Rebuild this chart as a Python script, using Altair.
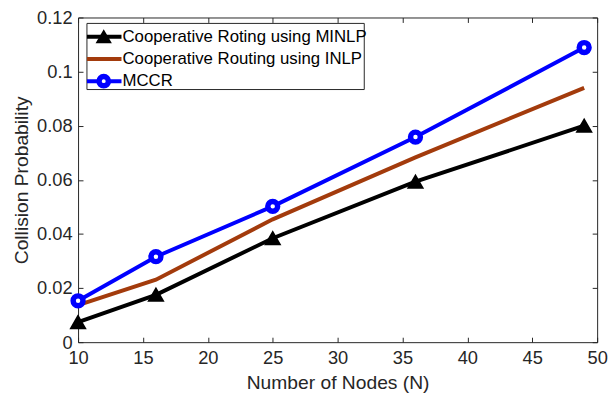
import altair as alt
import pandas as pd

nodes = [10, 16, 25, 36, 49]
minlp = [0.0074, 0.0175, 0.0384, 0.0593, 0.0800]
inlp = [0.0137, 0.0231, 0.0454, 0.0683, 0.0940]
mccr = [0.0153, 0.0316, 0.0502, 0.0758, 0.1089]
series_names = ["Cooperative Roting using MINLP", "Cooperative Routing using INLP", "MCCR"]
series_colors = ["#000000", "#A33B0C", "#0000FF"]
x_ticks = [10, 15, 20, 25, 30, 35, 40, 45, 50]
y_ticks = [0, 0.02, 0.04, 0.06, 0.08, 0.1, 0.12]

rows = []
for name, vals in zip(series_names, [minlp, inlp, mccr]):
    for n, v in zip(nodes, vals):
        rows.append({"N": n, "P": v, "Series": name})
df = pd.DataFrame(rows)
legend_df = pd.DataFrame({"Series": series_names})
box_df = pd.DataFrame({"box": [0]})

FONT = "Liberation Sans"
AX = "#262626"

xs = alt.Scale(domain=[10, 50], nice=False, zero=False)
ys = alt.Scale(domain=[0, 0.12], nice=False, zero=False)
col = alt.Scale(domain=series_names, range=series_colors)
ly = alt.Scale(type="point", domain=series_names, range=[19.5, 64.5], padding=0)

x_bottom = alt.Axis(orient="bottom", values=x_ticks, offset=-5, tickSize=5, labelPadding=7,
                    domain=False, grid=False, title="Number of Nodes (N)", format="d",
                    labelFlush=False, titlePadding=6)
y_left = alt.Axis(orient="left", values=y_ticks, offset=-5, tickSize=5, labelPadding=6,
                  domain=False, grid=False, title="Collision Probability", format=".2~f",
                  labelFlush=False, titlePadding=5)
x_top = alt.Axis(orient="top", values=x_ticks, offset=-5, tickSize=5, labels=False,
                 domain=False, grid=False, title=None)
y_right = alt.Axis(orient="right", values=y_ticks, offset=-5, tickSize=5, labels=False,
                   domain=False, grid=False, title=None)

base = alt.Chart(df)

lines = base.mark_line(strokeWidth=4).encode(
    x=alt.X("N:Q", scale=xs, axis=x_bottom),
    y=alt.Y("P:Q", scale=ys, axis=y_left),
    color=alt.Color("Series:N", scale=col, legend=None),
    order=alt.Order("N:Q"),
)

tris = base.transform_filter(alt.datum.Series == series_names[0]).mark_point(
    shape="triangle-up", filled=True, size=200, color="#000000", stroke="#000000", strokeWidth=2, opacity=1
).encode(
    x=alt.X("N:Q", scale=xs, axis=None),
    y=alt.Y("P:Q", scale=ys, axis=None),
)

circs = base.transform_filter(alt.datum.Series == series_names[2]).mark_point(
    shape="circle", filled=False, size=100, stroke="#0000FF", fill="white", strokeWidth=5.5, opacity=1
).encode(
    x=alt.X("N:Q", scale=xs, axis=x_top),
    y=alt.Y("P:Q", scale=ys, axis=y_right),
)

# legend drawn as its own small layers
leg_box = alt.Chart(box_df).mark_rect(fill="white", stroke=AX, strokeWidth=1).encode(
    x=alt.value(9), x2=alt.value(290), y=alt.value(6), y2=alt.value(73)
)
lbase = alt.Chart(legend_df)
leg_lines = lbase.mark_rule(strokeWidth=4).encode(
    x=alt.value(9), x2=alt.value(44),
    y=alt.Y("Series:N", scale=ly, axis=None),
    color=alt.Color("Series:N", scale=col, legend=None),
)
leg_tri = lbase.transform_filter(alt.datum.Series == series_names[0]).mark_point(
    shape="triangle-up", filled=True, size=170, color="#000000", stroke="#000000", strokeWidth=2, opacity=1
).encode(x=alt.value(26), y=alt.Y("Series:N", scale=ly, axis=None))
leg_circ = lbase.transform_filter(alt.datum.Series == series_names[2]).mark_point(
    shape="circle", filled=False, size=90, stroke="#0000FF", fill="white", strokeWidth=5.5, opacity=1
).encode(x=alt.value(26), y=alt.Y("Series:N", scale=ly, axis=None))
leg_text = lbase.mark_text(align="left", baseline="middle", font=FONT, fontSize=17, color="#000000").encode(
    x=alt.value(45), y=alt.Y("Series:N", scale=ly, axis=None), text="Series:N"
)

chart = alt.layer(
    lines, tris, circs, leg_box, leg_lines, leg_tri, leg_circ, leg_text
).resolve_scale(
    y="independent"
).resolve_axis(
    x="independent", y="independent"
).properties(
    width=526, height=329,
    background="white",
    padding={"left": 71, "top": 7, "right": 11, "bottom": 58},
    autosize=alt.AutoSizeParams(type="none"),
).configure_view(
    stroke=AX, strokeWidth=1
).configure_axis(
    labelFont=FONT, titleFont=FONT, labelFontSize=18.5, titleFontSize=19.5,
    labelColor=AX, titleColor=AX, tickColor=AX, tickWidth=1, titleFontWeight="normal",
)

chart.save("out.html", embed_options={"renderer": "svg", "actions": False})
